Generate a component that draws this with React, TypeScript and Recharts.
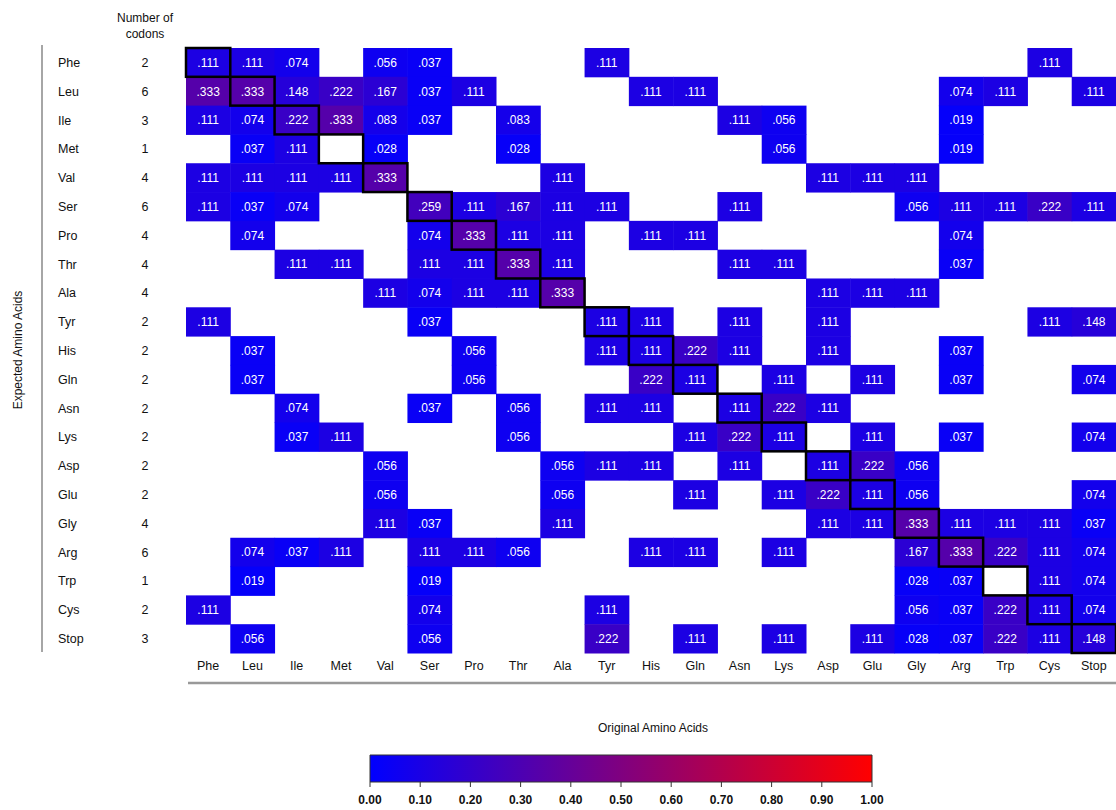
import React from 'react';
import {
  ScatterChart, Scatter, XAxis, YAxis, Customized,
  ComposedChart, Line, ReferenceArea,
} from 'recharts';

const aminoAcids = ['Phe','Leu','Ile','Met','Val','Ser','Pro','Thr','Ala','Tyr','His','Gln','Asn','Lys','Asp','Glu','Gly','Arg','Trp','Cys','Stop'];
const codonCounts = [2,6,3,1,4,6,4,4,4,2,2,2,2,2,2,2,4,6,1,2,3];

const _ = null;
const rowPhe  = [.111,.111,.074,_,.056,.037,_,_,_,.111,_,_,_,_,_,_,_,_,_,.111,_];
const rowLeu  = [.333,.333,.148,.222,.167,.037,.111,_,_,_,.111,.111,_,_,_,_,_,.074,.111,_,.111];
const rowIle  = [.111,.074,.222,.333,.083,.037,_,.083,_,_,_,_,.111,.056,_,_,_,.019,_,_,_];
const rowMet  = [_,.037,.111,_,.028,_,_,.028,_,_,_,_,_,.056,_,_,_,.019,_,_,_];
const rowVal  = [.111,.111,.111,.111,.333,_,_,_,.111,_,_,_,_,_,.111,.111,.111,_,_,_,_];
const rowSer  = [.111,.037,.074,_,_,.259,.111,.167,.111,.111,_,_,.111,_,_,_,.056,.111,.111,.222,.111];
const rowPro  = [_,.074,_,_,_,.074,.333,.111,.111,_,.111,.111,_,_,_,_,_,.074,_,_,_];
const rowThr  = [_,_,.111,.111,_,.111,.111,.333,.111,_,_,_,.111,.111,_,_,_,.037,_,_,_];
const rowAla  = [_,_,_,_,.111,.074,.111,.111,.333,_,_,_,_,_,.111,.111,.111,_,_,_,_];
const rowTyr  = [.111,_,_,_,_,.037,_,_,_,.111,.111,_,.111,_,.111,_,_,_,_,.111,.148];
const rowHis  = [_,.037,_,_,_,_,.056,_,_,.111,.111,.222,.111,_,.111,_,_,.037,_,_,_];
const rowGln  = [_,.037,_,_,_,_,.056,_,_,_,.222,.111,_,.111,_,.111,_,.037,_,_,.074];
const rowAsn  = [_,_,.074,_,_,.037,_,.056,_,.111,.111,_,.111,.222,.111,_,_,_,_,_,_];
const rowLys  = [_,_,.037,.111,_,_,_,.056,_,_,_,.111,.222,.111,_,.111,_,.037,_,_,.074];
const rowAsp  = [_,_,_,_,.056,_,_,_,.056,.111,.111,_,.111,_,.111,.222,.056,_,_,_,_];
const rowGlu  = [_,_,_,_,.056,_,_,_,.056,_,_,.111,_,.111,.222,.111,.056,_,_,_,.074];
const rowGly  = [_,_,_,_,.111,.037,_,_,.111,_,_,_,_,_,.111,.111,.333,.111,.111,.111,.037];
const rowArg  = [_,.074,.037,.111,_,.111,.111,.056,_,_,.111,.111,_,.111,_,_,.167,.333,.222,.111,.074];
const rowTrp  = [_,.019,_,_,_,.019,_,_,_,_,_,_,_,_,_,_,.028,.037,_,.111,.074];
const rowCys  = [.111,_,_,_,_,.074,_,_,_,.111,_,_,_,_,_,_,.056,.037,.222,.111,.074];
const rowStop = [_,.056,_,_,_,.056,_,_,_,.222,_,.111,_,.111,_,.111,.028,.037,.222,.111,.148];

const freqRows = [rowPhe,rowLeu,rowIle,rowMet,rowVal,rowSer,rowPro,rowThr,rowAla,rowTyr,rowHis,rowGln,rowAsn,rowLys,rowAsp,rowGlu,rowGly,rowArg,rowTrp,rowCys,rowStop];
const colorTicks = [0,0.1,0.2,0.3,0.4,0.5,0.6,0.7,0.8,0.9,1.0];

const FONT = '"Liberation Sans", Arial, Helvetica, sans-serif';
const W = 1116, H = 810;
const PL = 186, PR = 1116, PT = 48, PB = 653;
const N = aminoAcids.length;
const CW = (PR - PL) / N;
const CH = (PB - PT) / N;

const color = (v: number) => {
  const r = Math.round(255 * v);
  const b = Math.round(255 * (1 - v));
  return `rgb(${r},0,${b})`;
};
const fmt = (v: number) => v.toFixed(3).replace(/^0/, '');

const cells: any[] = [];
freqRows.forEach((row, r) => row.forEach((v, c) => {
  if (v !== null) cells.push({ x: c, y: r, v });
}));
const diag = aminoAcids.map((_a, i) => ({ x: i, y: i }));
const idx = aminoAcids.map((_a, i) => i);

const CellShape = (p: any) => {
  const { cx, cy, payload } = p;
  if (cx == null || cy == null) return <g />;
  return (
    <g>
      <rect x={cx - CW / 2} y={cy - CH / 2} width={CW + 0.5} height={CH + 0.5} fill={color(payload.v)} />
      <text x={cx} y={cy} dy="0.36em" textAnchor="middle" fill="#fff" fontSize={12} fontFamily={FONT}>{fmt(payload.v)}</text>
    </g>
  );
};
const DiagShape = (p: any) => {
  const { cx, cy } = p;
  if (cx == null || cy == null) return <g />;
  return <rect x={cx - CW / 2} y={cy - CH / 2} width={CW} height={CH} fill="none" stroke="#000" strokeWidth={2.5} />;
};

const RowTick = (p: any) => {
  const { y, payload } = p;
  const i = payload.value;
  return (
    <g>
      <text x={58} y={y} dy="0.36em" textAnchor="start" fontSize={12.5} fill="#111" fontFamily={FONT}>{aminoAcids[i]}</text>
      <text x={145} y={y} dy="0.36em" textAnchor="middle" fontSize={12.5} fill="#111" fontFamily={FONT}>{codonCounts[i]}</text>
    </g>
  );
};

const Decor = () => (
  <g fontFamily={FONT}>
    <text x={145} y={22} textAnchor="middle" fontSize={12} fill="#111">Number of</text>
    <text x={145} y={38} textAnchor="middle" fontSize={12} fill="#111">codons</text>
    <line x1={42} y1={45} x2={42} y2={652} stroke="#888" strokeWidth={1.5} />
    <line x1={188} y1={683} x2={1116} y2={683} stroke="#999" strokeWidth={2.5} />
    <text x={653} y={732} textAnchor="middle" fontSize={12} fill="#111">Original Amino Acids</text>
    <text x={22} y={350} textAnchor="middle" fontSize={12} fill="#111" transform="rotate(-90 22 350)">Expected Amino Acids</text>
  </g>
);

export default function App() {
  return (
    <div style={{ position: 'absolute', left: 0, top: 0, width: W, height: H, background: '#fff', fontFamily: FONT }}>
      <div style={{ position: 'absolute', left: 0, top: 0 }}>
        <ScatterChart width={W} height={H} margin={{ top: PT, right: W - PR, bottom: H - PB - 30, left: PL - 150 }}>
          <XAxis type="number" dataKey="x" domain={[-0.5, N - 0.5]} ticks={idx} interval={0}
            axisLine={false} tickLine={false} height={30}
            tickFormatter={(v: number) => aminoAcids[v]}
            tick={{ fontSize: 12.5, fill: '#111', fontFamily: FONT }} />
          <YAxis type="number" dataKey="y" domain={[-0.5, N - 0.5]} ticks={idx} interval={0} reversed
            axisLine={false} tickLine={false} width={150} tick={<RowTick />} />
          <Scatter data={cells} shape={<CellShape />} isAnimationActive={false} />
          <Scatter data={diag} shape={<DiagShape />} isAnimationActive={false} />
          <Customized component={Decor} />
        </ScatterChart>
      </div>
      <div style={{ position: 'absolute', left: 0, top: 740 }}>
        <ComposedChart width={W} height={70} data={colorTicks.map((t) => ({ x: t, y: 0.5 }))}
          margin={{ top: 15, right: W - 872, bottom: 0, left: 370 }}>
          <defs>
            <linearGradient id="cbGrad" x1="0" y1="0" x2="1" y2="0">
              <stop offset="0%" stopColor={color(0)} />
              <stop offset="100%" stopColor={color(1)} />
            </linearGradient>
          </defs>
          <XAxis type="number" dataKey="x" domain={[0, 1]} ticks={colorTicks} interval={0}
            axisLine={false} tickSize={5} tickMargin={8} height={28}
            tickLine={{ stroke: '#333' }}
            tickFormatter={(v: number) => v.toFixed(2)}
            tick={{ fontSize: 12, fontWeight: 'bold', fill: '#111', fontFamily: FONT }} />
          <YAxis type="number" domain={[0, 1]} hide />
          <ReferenceArea x1={0} x2={1} y1={0} y2={1} fill="url(#cbGrad)" fillOpacity={1} stroke="#333" strokeWidth={1} ifOverflow="visible" />
          <Line dataKey="y" stroke="none" dot={false} isAnimationActive={false} />
        </ComposedChart>
      </div>
    </div>
  );
}
